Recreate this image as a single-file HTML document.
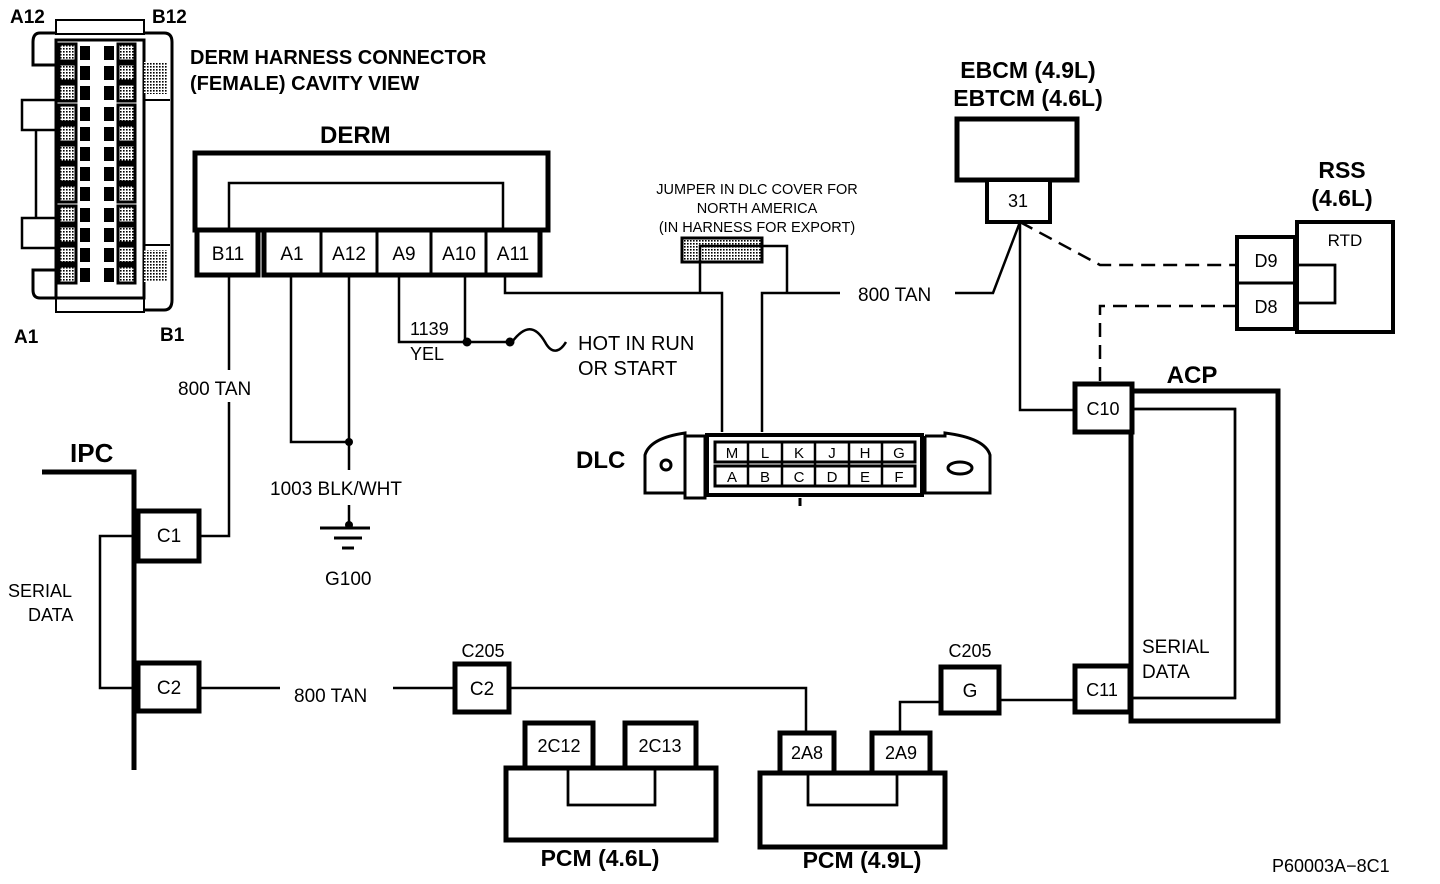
<!DOCTYPE html>
<html><head><meta charset="utf-8"><style>
html,body{margin:0;padding:0;background:#fff}
svg{display:block}
text{font-family:"Liberation Sans",Arial,sans-serif;fill:#000}
.b{font-weight:bold}
</style></head><body>
<svg width="1440" height="884" viewBox="0 0 1440 884" xmlns="http://www.w3.org/2000/svg">
<defs>
<pattern id="dots" width="3" height="3" patternUnits="userSpaceOnUse"><rect width="3" height="3" fill="#fff"/><rect width="1.6" height="1.6" fill="#000"/></pattern>
</defs>
<g fill="none" stroke="#000" stroke-width="2.5">
<rect x="56" y="20" width="88" height="14" stroke-width="2"/>
<rect x="56" y="298" width="88" height="14" stroke-width="2"/>
<path d="M56 33 H40 Q33 33 33 42 V65 H56" stroke-width="3"/>
<path d="M144 33 H164 Q172 33 172 42 V300 Q172 310 164 310 H144" stroke-width="3"/>
<path d="M56 298 H40 Q33 298 33 290 V270 H56" stroke-width="3"/>
<rect x="56" y="40" width="88" height="258" stroke-width="3"/>
<path d="M56 100 H22 V130 H56 M56 218 H22 V248 H56 M36 130 V218" stroke-width="2.5"/>
<path d="M144 100 H170 M144 245 H170" stroke-width="2"/>
</g>
<g stroke="#000" stroke-width="3" fill="url(#dots)">
<rect x="59" y="44" width="17" height="17"/><rect x="59" y="64" width="17" height="17"/><rect x="59" y="84" width="17" height="17"/><rect x="59" y="105" width="17" height="17"/><rect x="59" y="125" width="17" height="17"/><rect x="59" y="145" width="17" height="17"/><rect x="59" y="165" width="17" height="17"/><rect x="59" y="185" width="17" height="17"/><rect x="59" y="206" width="17" height="17"/><rect x="59" y="226" width="17" height="17"/><rect x="59" y="246" width="17" height="17"/><rect x="59" y="266" width="17" height="17"/>
<rect x="118" y="44" width="17" height="17"/><rect x="118" y="64" width="17" height="17"/><rect x="118" y="84" width="17" height="17"/><rect x="118" y="105" width="17" height="17"/><rect x="118" y="125" width="17" height="17"/><rect x="118" y="145" width="17" height="17"/><rect x="118" y="165" width="17" height="17"/><rect x="118" y="185" width="17" height="17"/><rect x="118" y="206" width="17" height="17"/><rect x="118" y="226" width="17" height="17"/><rect x="118" y="246" width="17" height="17"/><rect x="118" y="266" width="17" height="17"/>
</g>
<g fill="#000">
<rect x="80" y="46" width="10" height="14"/><rect x="80" y="66" width="10" height="14"/><rect x="80" y="86" width="10" height="14"/><rect x="80" y="107" width="10" height="14"/><rect x="80" y="127" width="10" height="14"/><rect x="80" y="147" width="10" height="14"/><rect x="80" y="167" width="10" height="14"/><rect x="80" y="187" width="10" height="14"/><rect x="80" y="208" width="10" height="14"/><rect x="80" y="228" width="10" height="14"/><rect x="80" y="248" width="10" height="14"/><rect x="80" y="268" width="10" height="14"/>
<rect x="104" y="46" width="10" height="14"/><rect x="104" y="66" width="10" height="14"/><rect x="104" y="86" width="10" height="14"/><rect x="104" y="107" width="10" height="14"/><rect x="104" y="127" width="10" height="14"/><rect x="104" y="147" width="10" height="14"/><rect x="104" y="167" width="10" height="14"/><rect x="104" y="187" width="10" height="14"/><rect x="104" y="208" width="10" height="14"/><rect x="104" y="228" width="10" height="14"/><rect x="104" y="248" width="10" height="14"/><rect x="104" y="268" width="10" height="14"/>
</g>
<rect x="144" y="62" width="24" height="32" fill="url(#dots)"/>
<rect x="144" y="250" width="24" height="32" fill="url(#dots)"/>
<text x="10" y="23" class="b" font-size="19">A12</text>
<text x="152" y="23" class="b" font-size="19">B12</text>
<text x="14" y="343" class="b" font-size="19">A1</text>
<text x="160" y="341" class="b" font-size="19">B1</text>
<text x="190" y="64" class="b" font-size="20">DERM HARNESS CONNECTOR</text>
<text x="190" y="90" class="b" font-size="20">(FEMALE) CAVITY VIEW</text>

<text x="320" y="143" class="b" font-size="24">DERM</text>
<g fill="none" stroke="#000">
<rect x="195" y="153" width="353" height="77" stroke-width="5"/>
<path d="M229 230 V183 H503 V230" stroke-width="2.5"/>
</g>
<g fill="#fff" stroke="#000" stroke-width="5">
<rect x="197" y="230" width="61" height="45"/>
<rect x="264" y="230" width="276" height="45"/>
</g>
<g stroke="#000" stroke-width="3">
<line x1="321" y1="232" x2="321" y2="273"/><line x1="377" y1="232" x2="377" y2="273"/><line x1="431" y1="232" x2="431" y2="273"/><line x1="486" y1="232" x2="486" y2="273"/>
</g>
<g font-size="19" text-anchor="middle">
<text x="228" y="260">B11</text><text x="292" y="260">A1</text><text x="349" y="260">A12</text><text x="404" y="260">A9</text><text x="459" y="260">A10</text><text x="513" y="260">A11</text>
</g>

<g fill="none" stroke="#000" stroke-width="2.5">
<path d="M229 277 V370 M229 402 V536 H200"/>
<path d="M291 277 V442 H349 M349 277 V470 M349 505 V522"/>
<path d="M320 528 H370 M334 538 H362 M342 548 H354" stroke-width="3"/>
<path d="M399 277 V342 H510 M465 277 V342"/>
<path d="M512 342 C525 325 535 325 545 342 C552 355 560 352 566 342"/>
<path d="M505 277 V293 H722 V432"/>
<path d="M700 262 V293 M787 262 V293 M762 432 V293 H840"/>
<path d="M955 293 H993 L1020 222 V410 H1075"/>
<path d="M1020 222 L1100 265 H1237 M1237 306 H1100 V383" stroke-dasharray="14 8"/>
<path d="M1295 265 H1335 V303 H1295"/>
<path d="M1133 409 H1235 V698 H1130"/>
<path d="M140 536 H100 V688 H140"/>
<path d="M200 688 H280 M393 688 H455 M510 688 H806 V733"/>
<path d="M900 733 V702 H940 M1000 700 H1073"/>
<path d="M568 768 V805 H655 V768"/>
<path d="M808 772 V805 H897 V772"/>
</g>
<g fill="#000"><circle cx="349" cy="442" r="4"/><circle cx="349" cy="525" r="4"/><circle cx="467" cy="342" r="4.5"/><circle cx="510" cy="342" r="4.5"/></g>
<text x="178" y="395" font-size="19">800 TAN</text>
<text x="270" y="495" font-size="19">1003 BLK/WHT</text>
<text x="325" y="585" font-size="19">G100</text>
<text x="410" y="335" font-size="18">1139</text>
<text x="410" y="360" font-size="18">YEL</text>
<text x="578" y="350" font-size="20">HOT IN RUN</text>
<text x="578" y="375" font-size="20">OR START</text>

<text x="757" y="194" font-size="14.5" text-anchor="middle">JUMPER IN DLC COVER FOR</text>
<text x="757" y="213" font-size="14.5" text-anchor="middle">NORTH AMERICA</text>
<text x="757" y="232" font-size="14.5" text-anchor="middle">(IN HARNESS FOR EXPORT)</text>
<rect x="682" y="238" width="80" height="24" fill="url(#dots)" stroke="#000" stroke-width="3"/>
<path d="M700 262 V246 H787 V262" fill="none" stroke="#000" stroke-width="2.5"/>
<text x="858" y="301" font-size="19">800 TAN</text>

<text x="576" y="468" class="b" font-size="24">DLC</text>
<g fill="none" stroke="#000" stroke-width="3">
<path d="M685 436 H705 V498 H685 V433 Q650 438 645 455 V493 H685"/>
<path d="M925 436 H945 V433 Q985 438 990 455 V493 H925 V436"/>
<rect x="707" y="435" width="215" height="60" stroke-width="4"/>
<rect x="715" y="442" width="200" height="20"/>
<rect x="715" y="466" width="200" height="20"/>
<ellipse cx="666" cy="465" rx="5" ry="5"/>
<ellipse cx="960" cy="468" rx="12" ry="6"/>
<path d="M800 498 V506"/>
</g>
<g stroke="#000" stroke-width="2.5">
<line x1="748" y1="442" x2="748" y2="486"/><line x1="782" y1="442" x2="782" y2="486"/><line x1="815" y1="442" x2="815" y2="486"/><line x1="849" y1="442" x2="849" y2="486"/><line x1="882" y1="442" x2="882" y2="486"/>
</g>
<g font-size="15" text-anchor="middle">
<text x="732" y="458">M</text><text x="765" y="458">L</text><text x="799" y="458">K</text><text x="832" y="458">J</text><text x="865" y="458">H</text><text x="899" y="458">G</text>
<text x="732" y="482">A</text><text x="765" y="482">B</text><text x="799" y="482">C</text><text x="832" y="482">D</text><text x="865" y="482">E</text><text x="899" y="482">F</text>
</g>

<text x="1028" y="78" class="b" font-size="23" text-anchor="middle">EBCM (4.9L)</text>
<text x="1028" y="106" class="b" font-size="23" text-anchor="middle">EBTCM (4.6L)</text>
<rect x="957" y="119" width="120" height="61" fill="#fff" stroke="#000" stroke-width="5"/>
<rect x="987" y="180" width="63" height="42" fill="#fff" stroke="#000" stroke-width="4"/>
<text x="1018" y="207" font-size="18" text-anchor="middle">31</text>

<text x="1342" y="178" class="b" font-size="23" text-anchor="middle">RSS</text>
<text x="1342" y="206" class="b" font-size="23" text-anchor="middle">(4.6L)</text>
<rect x="1297" y="222" width="96" height="110" fill="none" stroke="#000" stroke-width="4"/>
<text x="1345" y="246" font-size="17" text-anchor="middle">RTD</text>
<rect x="1237" y="237" width="58" height="92" fill="#fff" stroke="#000" stroke-width="4"/>
<line x1="1237" y1="283" x2="1295" y2="283" stroke="#000" stroke-width="3"/>
<text x="1266" y="267" font-size="18" text-anchor="middle">D9</text>
<text x="1266" y="313" font-size="18" text-anchor="middle">D8</text>
<path d="M1295 265 H1335 V303 H1295" fill="none" stroke="#000" stroke-width="2.5"/>

<text x="1192" y="383" class="b" font-size="24" text-anchor="middle">ACP</text>
<rect x="1131" y="391" width="147" height="330" fill="none" stroke="#000" stroke-width="5"/>
<path d="M1133 409 H1235 V698 H1130" fill="none" stroke="#000" stroke-width="2.5"/>
<rect x="1075" y="384" width="57" height="48" fill="#fff" stroke="#000" stroke-width="5"/>
<text x="1103" y="415" font-size="18" text-anchor="middle">C10</text>
<rect x="1075" y="666" width="55" height="46" fill="#fff" stroke="#000" stroke-width="5"/>
<text x="1102" y="696" font-size="18" text-anchor="middle">C11</text>
<text x="1142" y="653" font-size="19">SERIAL</text>
<text x="1142" y="678" font-size="19">DATA</text>

<text x="70" y="462" class="b" font-size="26">IPC</text>
<path d="M42 472 H134 V770" fill="none" stroke="#000" stroke-width="5"/>
<rect x="138" y="511" width="61" height="50" fill="#fff" stroke="#000" stroke-width="5"/>
<text x="169" y="542" font-size="19" text-anchor="middle">C1</text>
<rect x="138" y="663" width="61" height="48" fill="#fff" stroke="#000" stroke-width="5"/>
<text x="169" y="694" font-size="19" text-anchor="middle">C2</text>
<text x="8" y="597" font-size="18">SERIAL</text>
<text x="28" y="621" font-size="18">DATA</text>
<text x="294" y="702" font-size="19">800 TAN</text>

<text x="483" y="657" font-size="18" text-anchor="middle">C205</text>
<rect x="455" y="664" width="54" height="48" fill="#fff" stroke="#000" stroke-width="5"/>
<text x="482" y="695" font-size="19" text-anchor="middle">C2</text>
<text x="970" y="657" font-size="18" text-anchor="middle">C205</text>
<rect x="941" y="667" width="58" height="46" fill="#fff" stroke="#000" stroke-width="5"/>
<text x="970" y="697" font-size="19" text-anchor="middle">G</text>

<rect x="506" y="768" width="210" height="72" fill="none" stroke="#000" stroke-width="5"/>
<path d="M568 768 V805 H655 V768" fill="none" stroke="#000" stroke-width="2.5"/>
<rect x="525" y="723" width="68" height="45" fill="#fff" stroke="#000" stroke-width="5"/>
<rect x="625" y="723" width="71" height="45" fill="#fff" stroke="#000" stroke-width="5"/>
<text x="559" y="752" font-size="18" text-anchor="middle">2C12</text>
<text x="660" y="752" font-size="18" text-anchor="middle">2C13</text>
<text x="600" y="866" class="b" font-size="23" text-anchor="middle">PCM (4.6L)</text>

<rect x="760" y="773" width="185" height="74" fill="none" stroke="#000" stroke-width="5"/>
<path d="M808 773 V805 H897 V773" fill="none" stroke="#000" stroke-width="2.5"/>
<rect x="780" y="733" width="54" height="40" fill="#fff" stroke="#000" stroke-width="5"/>
<rect x="872" y="733" width="58" height="40" fill="#fff" stroke="#000" stroke-width="5"/>
<text x="807" y="759" font-size="18" text-anchor="middle">2A8</text>
<text x="901" y="759" font-size="18" text-anchor="middle">2A9</text>
<text x="862" y="868" class="b" font-size="23" text-anchor="middle">PCM (4.9L)</text>

<text x="1272" y="872" font-size="18">P60003A−8C1</text>
</svg>
</body></html>
